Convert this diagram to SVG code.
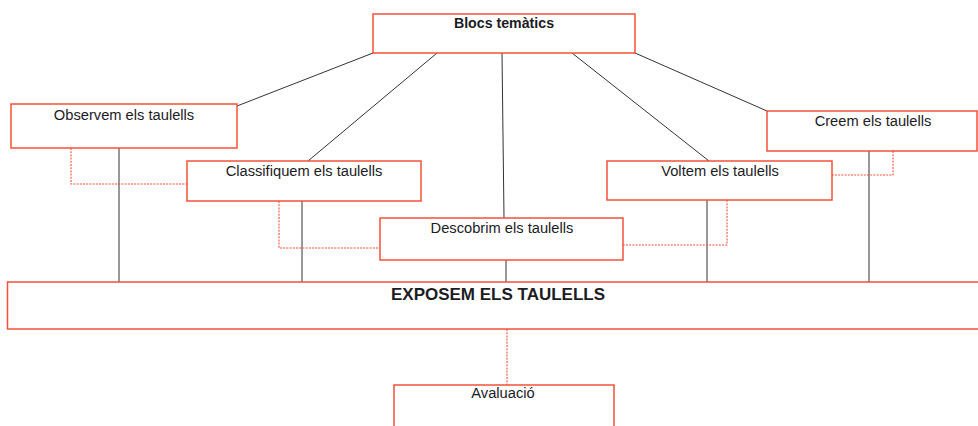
<svg xmlns="http://www.w3.org/2000/svg" width="978" height="426" viewBox="0 0 978 426">
<style>
.box{fill:#fff;stroke:#f4513a;stroke-width:1.5}
.t{font-family:"Liberation Sans",Arial,sans-serif;font-size:14.7px;fill:#1c1c24;text-anchor:middle}
.b{font-weight:bold}
.ln{stroke:#333;stroke-width:1;fill:none}
.dl{stroke:#f4513a;stroke-width:1.1;fill:none;stroke-dasharray:2,1.2}
</style>
<rect width="978" height="426" fill="#fff"/>
<g id="connectors">
<line class="ln" x1="373" y1="53" x2="237" y2="106"/>
<line class="ln" x1="437" y1="53" x2="308" y2="161"/>
<line class="ln" x1="502" y1="53" x2="504" y2="218"/>
<line class="ln" x1="572" y1="53" x2="709" y2="161"/>
<line class="ln" x1="635" y1="53" x2="767" y2="111"/>
<line class="ln" x1="119" y1="148" x2="119" y2="282"/>
<line class="ln" x1="302" y1="201" x2="302" y2="282"/>
<line class="ln" x1="506" y1="260" x2="506" y2="282"/>
<line class="ln" x1="707" y1="200" x2="707" y2="282"/>
<line class="ln" x1="869" y1="151" x2="869" y2="282"/>
<polyline class="dl" points="71,148 71,184 187,184"/>
<polyline class="dl" points="279,201 279,248 380,248"/>
<polyline class="dl" points="727,200 727,245 623,245"/>
<polyline class="dl" points="893,151 893,175 832,175"/>
<line class="dl" x1="507" y1="329" x2="507" y2="385"/>
</g>
<g id="blocs">
<rect class="box" x="373" y="14" width="262" height="39"/>
<text class="t b" x="504" y="28" style="font-size:14.2px">Blocs temàtics</text>
</g>
<g id="observem">
<rect class="box" x="11" y="104" width="226" height="44"/>
<text class="t" x="124" y="120">Observem els taulells</text>
</g>
<g id="classifiquem">
<rect class="box" x="187" y="161" width="234" height="40"/>
<text class="t" x="304" y="176">Classifiquem els taulells</text>
</g>
<g id="descobrim">
<rect class="box" x="380" y="218" width="243" height="42"/>
<text class="t" x="502" y="233">Descobrim els taulells</text>
</g>
<g id="voltem">
<rect class="box" x="607" y="161" width="225" height="39"/>
<text class="t" x="720" y="176">Voltem els taulells</text>
</g>
<g id="creem">
<rect class="box" x="767" y="111" width="210" height="40"/>
<text class="t" x="873" y="126">Creem els taulells</text>
</g>
<g id="exposem">
<rect class="box" x="7.5" y="282" width="980" height="47"/>
<text class="t b" x="498" y="300" style="font-size:17px">EXPOSEM ELS TAULELLS</text>
</g>
<g id="avaluacio">
<rect class="box" x="394" y="385" width="220" height="60"/>
<text class="t" x="503" y="398">Avaluació</text>
</g>
</svg>
